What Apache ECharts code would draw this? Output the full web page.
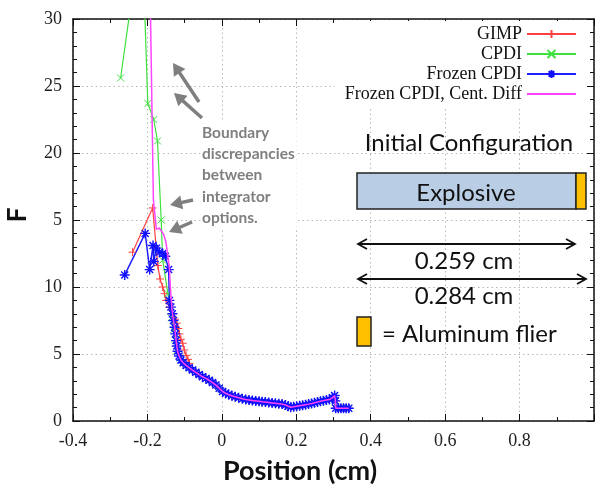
<!DOCTYPE html>
<html>
<head>
<meta charset="utf-8">
<script src="https://cdn.jsdelivr.net/npm/echarts@6/dist/echarts.min.js"></script>
<style>
  html, body { margin: 0; padding: 0; background: #fff; }
  #chart { width: 597px; height: 488px; }
</style>
</head>
<body>
<div id="chart"></div>
<script>
// data (position in cm, F)
const legendNames = ['GIMP', 'CPDI', 'Frozen CPDI', 'Frozen CPDI, Cent. Diff'];

const gimpX = [-0.240, -0.186, -0.172, -0.166, -0.159, -0.154, -0.150, -0.141, -0.132, -0.126, -0.121, -0.117, -0.114, -0.110, -0.105, -0.101, -0.096, -0.091, -0.087];
const gimpF = [12.6, 15.9, 11.6, 10.6, 10.0, 9.5, 9.0, 8.5, 8.0, 7.6, 7.3, 6.9, 6.5, 6.1, 5.8, 5.3, 4.9, 4.6, 4.3];

const cpdiX = [-0.272, -0.215, -0.199, -0.183, -0.173, -0.163, -0.159, -0.145, -0.136, -0.130, -0.125, -0.120, -0.112, -0.104, -0.096, -0.088];
const cpdiF = [25.6, 37.0, 23.7, 22.5, 20.9, 15.0, 12.0, 9.5, 7.7, 6.8, 6.1, 5.3, 4.7, 4.35, 4.15, 3.98];

const frozenX = [-0.261, -0.206, -0.194, -0.185, -0.183, -0.176, -0.168, -0.159, -0.152, -0.143, -0.141, -0.137, -0.133, -0.130, -0.127, -0.125, -0.123, -0.121, -0.119, -0.115, -0.110, -0.104, -0.096, -0.088];
const frozenF = [10.9, 14.0, 11.3, 13.1, 11.9, 12.9, 12.6, 12.5, 12.3, 11.3, 9.0, 8.5, 8.0, 7.5, 7.0, 6.5, 6.0, 5.6, 5.2, 4.85, 4.55, 4.35, 4.15, 3.98];

const centX = [-0.200, -0.184, -0.176, -0.168, -0.163, -0.156, -0.150, -0.145, -0.141, -0.138, -0.134, -0.130, -0.127, -0.125, -0.123, -0.121, -0.119, -0.115, -0.110, -0.104, -0.096, -0.088];
const centF = [45.0, 16.5, 14.3, 14.4, 14.45, 13.9, 13.3, 12.3, 11.4, 9.8, 8.3, 7.5, 7.0, 6.5, 6.0, 5.6, 5.2, 4.85, 4.55, 4.35, 4.15, 3.98];

// common tail where all four runs lie on top of each other
const tailX = [-0.079, -0.070, -0.061, -0.052, -0.043, -0.034, -0.025, -0.016, -0.007, 0.002, 0.010, 0.018, 0.027, 0.036, 0.045, 0.055, 0.064, 0.073, 0.082, 0.091, 0.100, 0.108, 0.117, 0.126, 0.135, 0.144, 0.153, 0.162, 0.171, 0.178, 0.185, 0.193, 0.201, 0.209, 0.217, 0.225, 0.233, 0.241, 0.249, 0.257, 0.265, 0.273, 0.281, 0.289, 0.297, 0.303, 0.305, 0.306, 0.313, 0.320, 0.327, 0.334, 0.341];
const tailF = [3.80, 3.63, 3.47, 3.30, 3.18, 3.04, 2.87, 2.68, 2.45, 2.20, 2.07, 1.98, 1.89, 1.81, 1.74, 1.66, 1.61, 1.57, 1.53, 1.50, 1.47, 1.44, 1.41, 1.38, 1.35, 1.32, 1.29, 1.26, 1.20, 1.10, 1.03, 1.06, 1.10, 1.14, 1.18, 1.22, 1.26, 1.31, 1.36, 1.41, 1.47, 1.52, 1.56, 1.60, 1.72, 1.90, 1.50, 0.95, 0.95, 0.95, 0.95, 0.95, 0.95];

const yTickLabels = ['0', '5', '10', '5', '20', '25', '30'];

function pairs(xs, fs, tail) {
    const out = xs.map(function (x, i) { return [x, fs[i]]; });
    if (tail) {
        tailX.forEach(function (x, i) { out.push([x, tailF[i]]); });
    }
    return out;
}

const plusSym = 'path://M5,0L5,10M0,5L10,5';
const crossSym = 'path://M0,0L10,10M10,0L0,10';
const starSym = 'path://M5,0L5,10M0,5L10,5M1.5,1.5L8.5,8.5M8.5,1.5L1.5,8.5';

function arrowHead(tx, ty, fx, fy, len, half) {
    const a = Math.atan2(ty - fy, tx - fx);
    const bx = tx - len * Math.cos(a), by = ty - len * Math.sin(a);
    const px = -Math.sin(a) * half, py = Math.cos(a) * half;
    return [[bx + px, by + py], [tx, ty], [bx - px, by - py]];
}

// gray callout arrow, filled head
function grayArrow(x1, y1, x2, y2) {
    const a = Math.atan2(y2 - y1, x2 - x1);
    const head = arrowHead(x2, y2, x1, y1, 12, 7);
    return [
        { type: 'line', shape: { x1: x1, y1: y1, x2: x2 - 10 * Math.cos(a), y2: y2 - 10 * Math.sin(a) },
          style: { stroke: '#7f7f7f', lineWidth: 3.5 }, z: 10 },
        { type: 'polygon', shape: { points: head }, style: { fill: '#7f7f7f' }, z: 10 }
    ];
}

// black double headed dimension arrow
function dimArrow(x1, x2, y) {
    return [
        { type: 'line', shape: { x1: x1, y1: y, x2: x2, y2: y }, style: { stroke: '#111', lineWidth: 1.8 }, z: 10 },
        { type: 'polyline', shape: { points: arrowHead(x1, y, x2, y, 9, 5) }, style: { stroke: '#111', lineWidth: 1.8, fill: null }, z: 10 },
        { type: 'polyline', shape: { points: arrowHead(x2, y, x1, y, 9, 5) }, style: { stroke: '#111', lineWidth: 1.8, fill: null }, z: 10 }
    ];
}

function panelText(text, x, y, align, size) {
    return {
        type: 'text', z: 10,
        style: { text: text, x: x, y: y, align: align, verticalAlign: 'middle',
                 fontFamily: 'Lato', fontSize: size, fill: '#111' }
    };
}

const chart = echarts.init(document.getElementById('chart'));

const serif = 'Liberation Serif';
const gridLine = { show: true, lineStyle: { color: '#b8b8b8', type: [1.5, 3], width: 1 } };

function baseX(pos, labels) {
    return {
        type: 'value', position: pos, min: -0.4, max: 1.0, interval: 0.2,
        axisLine: { show: true, onZero: false, lineStyle: { color: '#111', width: 1.5 } },
        axisTick: { show: true, inside: true, length: 7, lineStyle: { color: '#111' } },
        minorTick: { show: true, splitNumber: 2, length: 4, lineStyle: { color: '#111' } },
        splitLine: labels ? gridLine : { show: false },
        axisLabel: {
            show: labels, margin: 11, fontFamily: serif, fontSize: 18, color: '#222',
            formatter: function (v) {
                if (v > 0.99) return '';
                if (Math.abs(v) < 1e-9) return '0';
                return v.toFixed(1);
            }
        }
    };
}

function baseY(pos, labels) {
    return {
        type: 'value', position: pos, min: 0, max: 30, interval: 5,
        axisLine: { show: true, onZero: false, lineStyle: { color: '#111', width: 1.5 } },
        axisTick: { show: true, inside: true, length: 7, lineStyle: { color: '#111' } },
        minorTick: { show: true, splitNumber: 5, length: 4, lineStyle: { color: '#111' } },
        splitLine: labels ? gridLine : { show: false },
        axisLabel: {
            show: labels, margin: 11, fontFamily: serif, fontSize: 18, color: '#222',
            formatter: function (v) { return yTickLabels[Math.round(v / 5)]; }
        }
    };
}

let graphics = [];
// axis titles
graphics.push({ type: 'text', z: 10, style: { text: 'Position (cm)', x: 300, y: 471, align: 'center', verticalAlign: 'middle',
    fontFamily: 'Lato', fontWeight: 'bold', fontSize: 27, fill: '#111' } });
graphics.push({ type: 'text', z: 10, x: 18, y: 215, rotation: Math.PI / 2, style: { text: 'F', x: 0, y: 0, align: 'center', verticalAlign: 'middle',
    fontFamily: 'Lato', fontWeight: 'bold', fontSize: 26, fill: '#111' } });
// callout
graphics.push({ type: 'text', z: 10, style: {
    text: 'Boundary\ndiscrepancies\nbetween\nintegrator\noptions.', x: 202, y: 122,
    fontFamily: 'Lato', fontWeight: 'bold', fontSize: 15.5, lineHeight: 21.3, fill: '#7f7f7f',
    backgroundColor: '#fff', padding: [0, 2, 0, 0] } });
graphics = graphics.concat(grayArrow(199, 102, 173, 63));
graphics = graphics.concat(grayArrow(202, 118, 174, 93));
graphics = graphics.concat(grayArrow(193, 200, 170, 205));
graphics = graphics.concat(grayArrow(192, 222, 169, 232));
// initial configuration panel
graphics.push(panelText('Initial Configuration', 469, 143, 'center', 24));
graphics.push({ type: 'rect', z: 10, shape: { x: 357, y: 173, width: 219, height: 36 },
    style: { fill: '#b9cde5', stroke: '#222', lineWidth: 1.5 } });
graphics.push({ type: 'rect', z: 10, shape: { x: 576, y: 173, width: 10, height: 36 },
    style: { fill: '#ffc000', stroke: '#222', lineWidth: 1.5 } });
graphics.push(panelText('Explosive', 466, 193, 'center', 24));
graphics = graphics.concat(dimArrow(358, 575, 244));
graphics.push(panelText('0.259 cm', 464, 261, 'center', 24));
graphics = graphics.concat(dimArrow(358, 586, 279));
graphics.push(panelText('0.284 cm', 464, 296, 'center', 24));
graphics.push({ type: 'rect', z: 10, shape: { x: 357, y: 317, width: 14, height: 29 },
    style: { fill: '#ffc000', stroke: '#222', lineWidth: 1.5 } });
graphics.push(panelText('= Aluminum flier', 382, 334, 'left', 24));

const option = {
    animation: false,
    backgroundColor: '#fff',
    grid: { left: 73, right: -4, top: 19, bottom: 67 },
    legend: {
        orient: 'vertical', right: 10, top: 21, align: 'right',
        padding: [4, 10, 6, 10], backgroundColor: '#fff',
        itemWidth: 49, itemHeight: 10, itemGap: 2,
        textStyle: { fontFamily: serif, fontSize: 18, color: '#111' },
        data: [legendNames[0], legendNames[1], legendNames[2],
               { name: legendNames[3], itemStyle: { opacity: 0 } }]
    },
    xAxis: [baseX('bottom', true), baseX('top', false)],
    yAxis: [baseY('left', true), baseY('right', false)],
    graphic: graphics,
    series: [
        { name: legendNames[0], type: 'line', data: pairs(gimpX, gimpF, true), symbol: plusSym, symbolSize: 8,
          lineStyle: { color: '#ff4040', width: 1.2 }, itemStyle: { color: '#ff4040', borderColor: '#ff4040', borderWidth: 1 } },
        { name: legendNames[1], type: 'line', data: pairs(cpdiX, cpdiF, true), symbol: crossSym, symbolSize: 7,
          lineStyle: { color: '#3ee03e', width: 1.2 }, itemStyle: { color: '#3ee03e', borderColor: '#3ee03e', borderWidth: 1 } },
        { name: legendNames[2], type: 'line', data: pairs(frozenX, frozenF, true), symbol: starSym, symbolSize: 10,
          lineStyle: { color: '#2020ff', width: 1.5 }, itemStyle: { color: '#1010ff', borderColor: '#1010ff', borderWidth: 1.4 } },
        { name: legendNames[3], type: 'line', z: 5, data: pairs(centX, centF, true), symbol: 'none',
          lineStyle: { color: '#ff44ff', width: 1.5 }, itemStyle: { color: '#ff44ff' } }
    ]
};

chart.setOption(option);
</script>
</body>
</html>
